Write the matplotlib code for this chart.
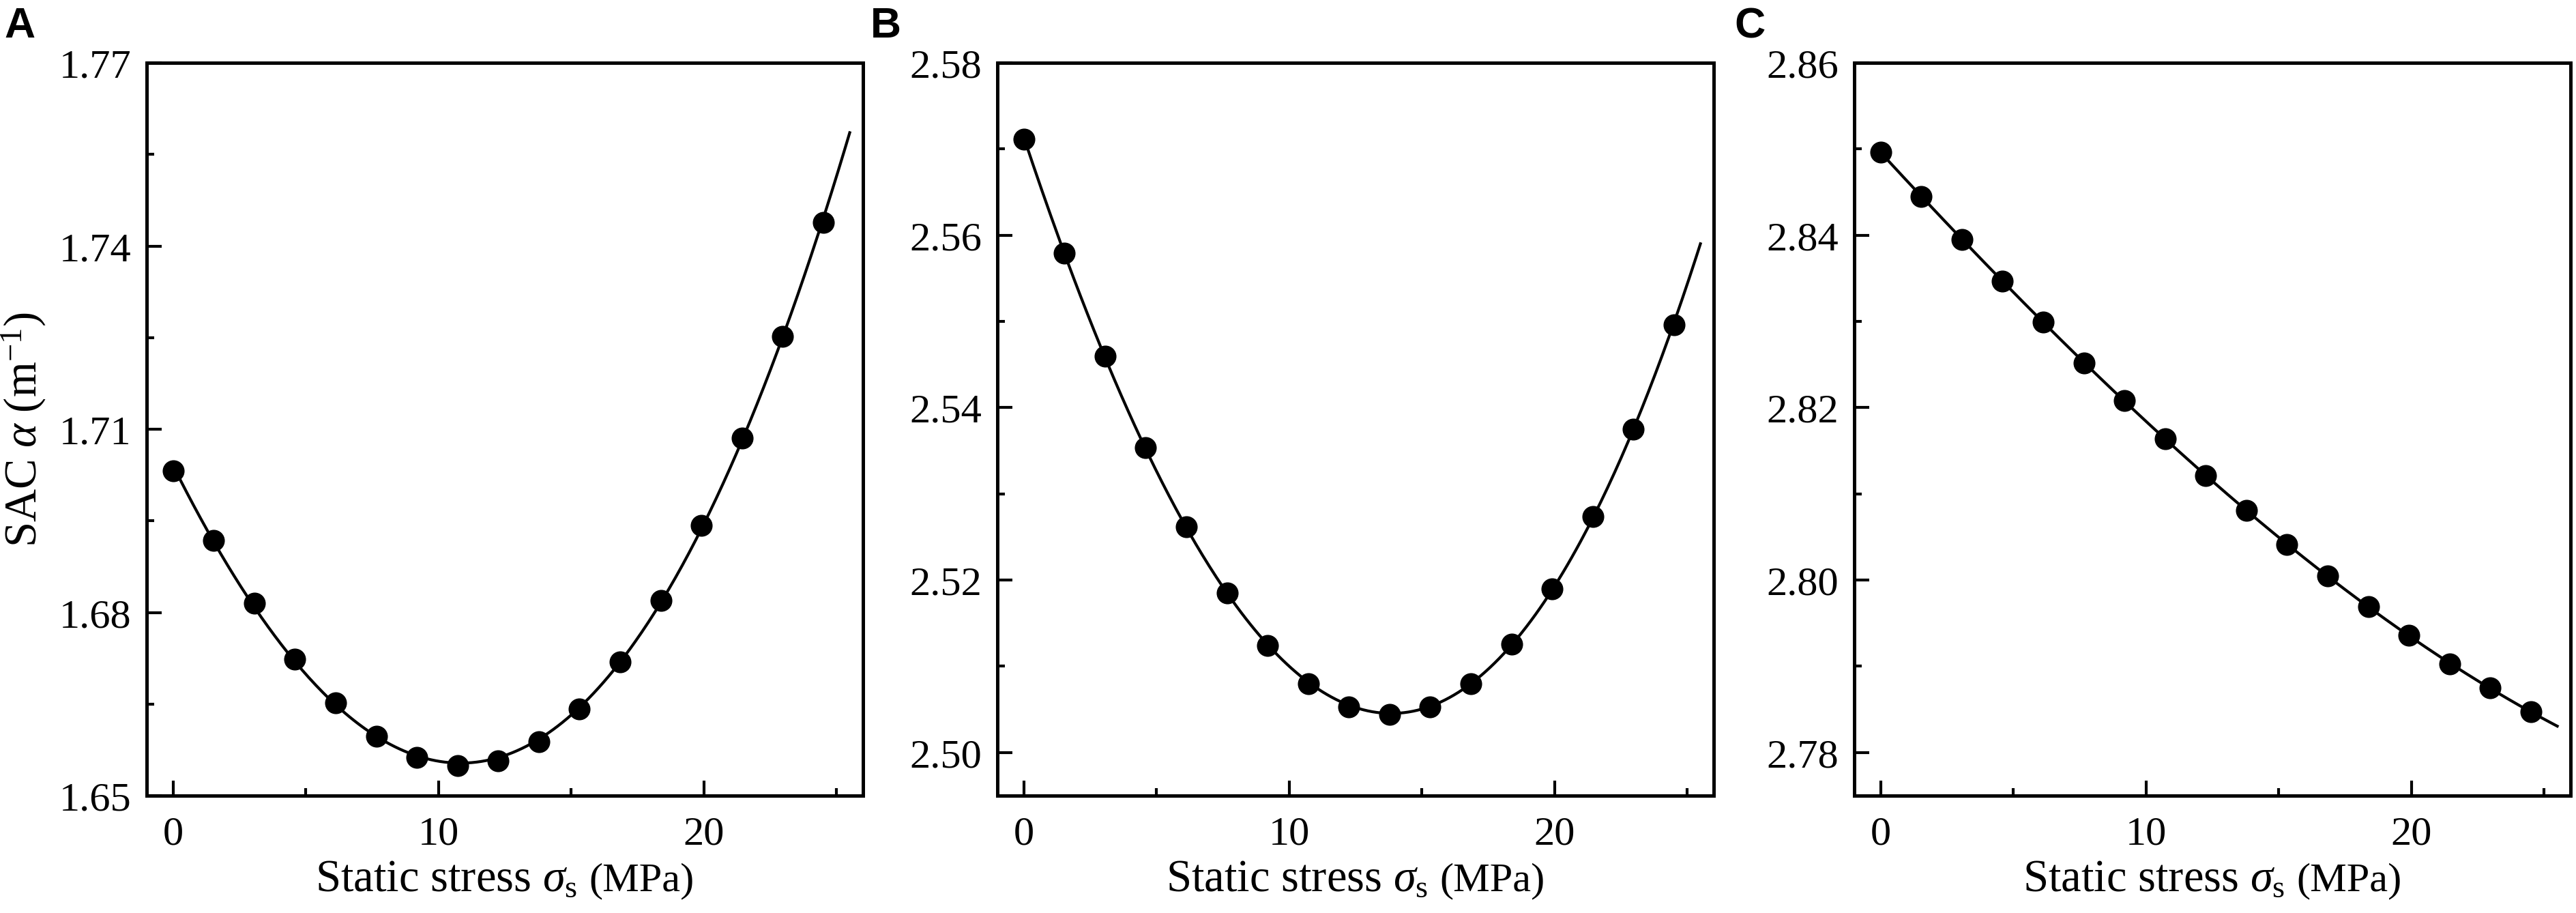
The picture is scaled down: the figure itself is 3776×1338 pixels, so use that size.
import numpy as np
import matplotlib as mpl
mpl.use('Agg')
import matplotlib.pyplot as plt
from matplotlib.ticker import MultipleLocator, FormatStrFormatter
from matplotlib.offsetbox import TextArea, HPacker, AnchoredOffsetbox

mpl.rcParams['font.family'] = 'Liberation Serif'
mpl.rcParams['mathtext.fontset'] = 'custom'
mpl.rcParams['mathtext.rm'] = 'Liberation Serif'
mpl.rcParams['mathtext.it'] = 'Liberation Serif:italic'
mpl.rcParams['axes.linewidth'] = 1.2

# static stress (MPa)
stress = [0, 1.53, 3.06, 4.59, 6.13, 7.66, 9.19, 10.72, 12.25,
          13.78, 15.31, 16.84, 18.38, 19.91, 21.44, 22.97, 24.5]

# SAC alpha (1/m) for the three panels
sac_a = [1.7032, 1.6918, 1.6815, 1.6724, 1.6652, 1.6597, 1.6563, 1.6549, 1.6557,
         1.6588, 1.6642, 1.6719, 1.6820, 1.6943, 1.7086, 1.7252, 1.7438]
sac_b = [2.5711, 2.5579, 2.5460, 2.5354, 2.5262, 2.5185, 2.5124, 2.5080, 2.5053,
         2.5044, 2.5053, 2.5080, 2.5126, 2.5190, 2.5274, 2.5375, 2.5496]
sac_c = [2.8496, 2.8445, 2.8395, 2.8347, 2.8299, 2.8252, 2.8208, 2.8164, 2.8121,
         2.8081, 2.8041, 2.8005, 2.7969, 2.7936, 2.7903, 2.7875, 2.7847]

panels = ['A', 'B', 'C']
series = [sac_a, sac_b, sac_c]
ylims = [(1.65, 1.77), (2.495, 2.58), (2.775, 2.86)]
ymajor = [0.03, 0.02, 0.02]

W, H = 3776, 1339
fig = plt.figure(figsize=(W / 300, H / 300), dpi=300)

lefts = [215, 1462, 2718]
letter_x = [6, 1276, 2542]
ax_w = 1050
bottom = 1 - 1167 / H
height = (1167 - 93) / H

for i in range(3):
    ax = fig.add_axes([lefts[i] / W, bottom, ax_w / W, height])
    y = np.array(series[i])
    x = np.array(stress)

    # fitted curve through the points
    coef = np.polyfit(x, y, 3)
    xf = np.linspace(0, 25.5, 300)
    ax.plot(xf, np.polyval(coef, xf), color='black', lw=1.0)
    ax.plot(x, y, 'o', color='black', ms=6.7, mec='black')

    ax.set_xlim(-1, 26)
    ax.set_ylim(*ylims[i])
    ax.xaxis.set_major_locator(MultipleLocator(10))
    ax.xaxis.set_minor_locator(MultipleLocator(5))
    ax.yaxis.set_major_locator(MultipleLocator(ymajor[i]))
    ax.yaxis.set_minor_locator(MultipleLocator(ymajor[i] / 2))
    ax.yaxis.set_major_formatter(FormatStrFormatter('%.2f'))

    ax.tick_params(which='both', direction='in', top=False, right=False, width=1.0)
    ax.tick_params(which='major', length=5.2)
    ax.tick_params(which='minor', length=2.6)
    ax.tick_params(axis='x', which='major', labelsize=14.5, pad=7)
    ax.tick_params(axis='y', which='major', labelsize=14.5, pad=5.5)

    # x label: "(MPa)" a little smaller than the rest
    t1 = TextArea(r'Static stress $\sigma_{\mathrm{s}}$', textprops=dict(fontsize=16))
    t2 = TextArea('(MPa)', textprops=dict(fontsize=14.5))
    box = HPacker(children=[t1, t2], align='baseline', pad=0, sep=4)
    anchored = AnchoredOffsetbox(loc='upper center', child=box, pad=0, borderpad=0,
                                 frameon=False, bbox_to_anchor=(0.5, -0.085),
                                 bbox_transform=ax.transAxes)
    ax.add_artist(anchored)

    if i == 0:
        ax.set_ylabel(r'SAC $\alpha$ (m$^{-1}$)', fontsize=16, labelpad=4)

    fig.text(letter_x[i] / W, 1 - 55 / H, panels[i], fontsize=15, fontweight='bold',
             family='Liberation Sans', va='baseline', ha='left')

fig.savefig('out.png', dpi=300)
